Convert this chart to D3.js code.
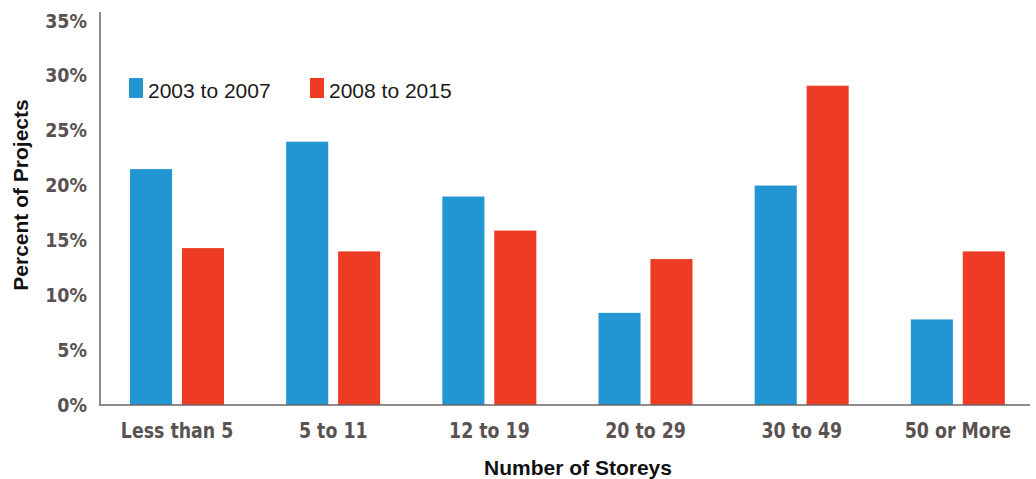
<!DOCTYPE html>
<html>
<head>
<meta charset="utf-8">
<script src="https://cdn.jsdelivr.net/npm/d3@7"></script>
<style>
  body { margin: 0; background: #fff; }
  .tick-label { font-family: "DejaVu Sans", sans-serif; font-weight: bold; fill: #5a5252; }
  .axis-title { font-family: "Liberation Sans", Arial, sans-serif; font-weight: bold; fill: #111; }
  .legend-text { font-family: "Liberation Sans", Arial, sans-serif; fill: #1a1a1a; }
</style>
</head>
<body>
<div id="main"></div>
<script>
// chart data
var categories = ["Less than 5", "5 to 11", "12 to 19", "20 to 29", "30 to 49", "50 or More"];
var seriesNames = ["2003 to 2007", "2008 to 2015"];
var values2003to2007 = [21.5, 24.0, 19.0, 8.4, 20.0, 7.8];
var values2008to2015 = [14.3, 14.0, 15.9, 13.3, 29.1, 14.0];
var yTicks = [0, 5, 10, 15, 20, 25, 30, 35];
var colors = ["#2196d2", "#ee3b24"];

var width = 1036, height = 479;

var svg = d3.select("#main")
    .append("svg")
    .attr("width", width)
    .attr("height", height);

// scales
var yScale = d3.scaleLinear()
    .domain([0, 35])
    .range([405, 21]);

var x0 = d3.scaleBand()
    .domain(categories)
    .range([99, 1036])
    .padding(0);

var x1 = d3.scaleBand()
    .domain(seriesNames)
    .range([31, 125])
    .paddingInner(0.19)
    .paddingOuter(0);

var color = d3.scaleOrdinal()
    .domain(seriesNames)
    .range(colors);

// build rows for grouped bars
var rows = categories.map(function (c, i) {
    return { cat: c, vals: [values2003to2007[i], values2008to2015[i]] };
});

// bars
var groups = svg.selectAll(".group")
    .data(rows)
    .enter().append("g")
    .attr("class", "group")
    .attr("transform", function (d) { return "translate(" + x0(d.cat) + ",0)"; });

groups.selectAll("rect")
    .data(function (d) {
        return seriesNames.map(function (s, j) { return { key: s, value: d.vals[j] }; });
    })
    .enter().append("rect")
    .attr("x", function (d) { return x1(d.key); })
    .attr("y", function (d) { return yScale(d.value); })
    .attr("width", x1.bandwidth())
    .attr("height", function (d) { return yScale(0) - yScale(d.value); })
    .style("fill", function (d) { return color(d.key); });

// y axis
var yAxis = svg.append("g")
    .attr("transform", "translate(100,0)")
    .call(d3.axisLeft(yScale).tickValues(yTicks).tickSize(0).tickPadding(13)
        .tickFormat(function (d) { return d + "%"; }));
yAxis.select(".domain").remove();
yAxis.selectAll("text").attr("class", "tick-label").style("font-size", "19px")
    .attr("transform", "translate(-13,0) scale(0.92,1) translate(13,0)");

svg.append("line")
    .attr("x1", 100).attr("x2", 100)
    .attr("y1", 12).attr("y2", 405)
    .style("stroke", "#6e6464").style("stroke-width", 1.5);

// x axis
var xAxis = svg.append("g")
    .attr("transform", "translate(0,405)")
    .call(d3.axisBottom(x0).tickSize(0).tickPadding(17));
xAxis.select(".domain").remove();
// condensed look like the original labels
xAxis.selectAll("text").attr("class", "tick-label").style("font-size", "22px")
    .attr("transform", "scale(0.79,1)");

svg.append("line")
    .attr("x1", 99).attr("x2", 1030)
    .attr("y1", 405).attr("y2", 405)
    .style("stroke", "#6e6464").style("stroke-width", 1.5);

// axis titles
svg.append("text")
    .attr("class", "axis-title")
    .attr("x", 578).attr("y", 475)
    .attr("text-anchor", "middle")
    .style("font-size", "21px")
    .text("Number of Storeys");

svg.append("text")
    .attr("class", "axis-title")
    .attr("transform", "translate(28,195) rotate(-90)")
    .attr("text-anchor", "middle")
    .style("font-size", "21px")
    .text("Percent of Projects");

// legend
var legendX = [129, 310];
var legend = svg.selectAll(".legend")
    .data(seriesNames)
    .enter().append("g")
    .attr("class", "legend")
    .attr("transform", function (d, i) { return "translate(" + legendX[i] + ",78)"; });

legend.append("rect")
    .attr("width", 14).attr("height", 20)
    .style("fill", function (d) { return color(d); });

legend.append("text")
    .attr("class", "legend-text")
    .attr("x", 19).attr("y", 20)
    .style("font-size", "21px")
    .text(function (d) { return d; });
</script>
</body>
</html>
